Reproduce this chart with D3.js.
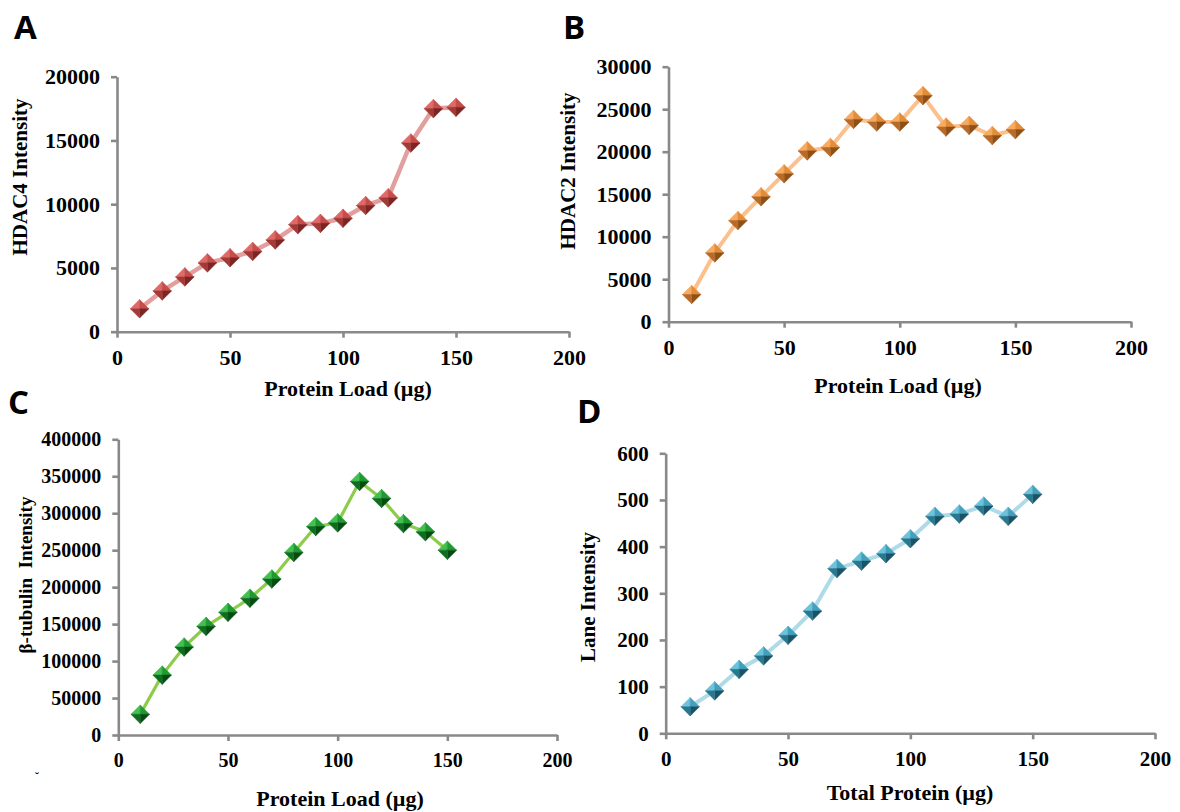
<!DOCTYPE html>
<html>
<head>
<meta charset="utf-8">
<script src="https://cdn.jsdelivr.net/npm/d3@7"></script>
<style>
  body { margin: 0; background: #fff; }
  svg { display: block; }
</style>
</head>
<body>
<script>
// protein loads (µg) used in every panel
const proteinLoad = [10, 20, 30, 40, 50, 60, 70, 80, 90, 100, 110, 120, 130, 140, 150];

// intensities
const hdac4 = [1800, 3200, 4300, 5400, 5800, 6300, 7200, 8400, 8500, 8900, 9900, 10500, 14800, 17500, 17600];
const hdac2 = [3200, 8100, 11900, 14700, 17400, 20100, 20500, 23800, 23500, 23500, 26600, 22900, 23100, 21900, 22600];
const tubulin = [28000, 81000, 119000, 147000, 166000, 185000, 211000, 247000, 282000, 287000, 343000, 320000, 286000, 275000, 250000];
const lane = [57, 91, 137, 166, 210, 262, 353, 369, 385, 417, 465, 470, 487, 465, 512];

// tick labels
const xTicks = [0, 50, 100, 150, 200];
const hdac4Ticks = [0, 5000, 10000, 15000, 20000];
const hdac2Ticks = [0, 5000, 10000, 15000, 20000, 25000, 30000];
const tubulinTicks = [0, 50000, 100000, 150000, 200000, 250000, 300000, 350000, 400000];
const laneTicks = [0, 100, 200, 300, 400, 500, 600];

const svg = d3.select("body").append("svg").attr("width", 1180).attr("height", 812);

const serif = "'Liberation Serif', 'Times New Roman', serif";

function panel(p) {
  const x = d3.scaleLinear().domain([0, 200]).range([p.left, p.right]);
  const y = d3.scaleLinear().domain([0, p.ticks[p.ticks.length - 1]]).range([p.bottom, p.top]);
  const g = svg.append("g");

  const yAxis = g.append("g").attr("transform", "translate(" + p.left + ",0)")
    .call(d3.axisLeft(y).tickValues(p.ticks).tickSize(6).tickSizeOuter(0).tickPadding(11).tickFormat(d3.format("d")));
  const xAxis = g.append("g").attr("transform", "translate(0," + p.bottom + ")")
    .call(d3.axisBottom(x).tickValues(xTicks).tickSize(6).tickSizeOuter(0).tickPadding(12).tickFormat(d3.format("d")));

  [yAxis, xAxis].forEach(function(a) {
    a.select(".domain").attr("stroke", "#898989").attr("stroke-width", 2.6);
    a.selectAll(".tick line").attr("stroke", "#898989").attr("stroke-width", 2.6);
    a.selectAll(".tick text").attr("fill", "#000").style("font-family", serif)
      .style("font-weight", "bold").style("font-size", p.tickFont + "px");
  });

  const line = d3.line()
    .x(function(d, i) { return x(proteinLoad[i]); })
    .y(function(d) { return y(d); });
  g.append("path").attr("d", line(p.values)).attr("fill", "none")
    .attr("stroke", p.lineColor).attr("stroke-width", p.lineWidth).attr("stroke-linejoin", "round");

  // pyramid shaped diamond markers, four shaded facets
  const r = 9.3;
  const facets = [
    [[0, 0], [-r, 0], [0, -r]],
    [[0, 0], [0, -r], [r, 0]],
    [[0, 0], [r, 0], [0, r]],
    [[0, 0], [0, r], [-r, 0]]
  ];
  const m = g.selectAll(".mark").data(p.values).enter().append("g")
    .attr("transform", function(d, i) { return "translate(" + x(proteinLoad[i]) + "," + y(d) + ")"; });
  facets.forEach(function(f, k) {
    m.append("path").attr("d", "M" + f.join("L") + "Z").attr("fill", p.shades[k])
      .attr("stroke", p.shades[k]).attr("stroke-width", 0.5);
  });

  g.append("text").attr("transform", "translate(" + p.yLabel[0] + "," + p.yLabel[1] + ") rotate(-90)")
    .attr("text-anchor", "middle").attr("dy", "0.35em")
    .style("font-family", serif).style("font-weight", "bold").style("font-size", p.yLabelFont + "px")
    .attr("xml:space", "preserve").text(p.yTitle);
  g.append("text").attr("x", p.xLabel[0]).attr("y", p.xLabel[1])
    .attr("text-anchor", "middle").attr("dy", "0.35em")
    .style("font-family", serif).style("font-weight", "bold").style("font-size", "22px")
    .text(p.xTitle);
  g.append("text").attr("x", p.tag[0]).attr("y", p.tag[1])
    .style("font-family", "'Open Sans', 'DejaVu Sans', sans-serif").style("font-weight", "bold")
    .style("font-size", "33px").text(p.name);
}

panel({
  name: "A", tag: [14, 39], values: hdac4, ticks: hdac4Ticks,
  left: 117, right: 569, top: 76.7, bottom: 331.7, tickFont: 22,
  yTitle: "HDAC4 Intensity", yLabel: [20, 177], yLabelFont: 21,
  xTitle: "Protein Load (µg)", xLabel: [348, 388],
  lineColor: "#e39f9e", lineWidth: 4.5,
  shades: ["#df6a67", "#c54e4b", "#7c2523", "#a23a37"]
});

panel({
  name: "B", tag: [563, 39], values: hdac2, ticks: hdac2Ticks,
  left: 668.5, right: 1131, top: 66.7, bottom: 321.7, tickFont: 22,
  yTitle: "HDAC2 Intensity", yLabel: [568, 171], yLabelFont: 21,
  xTitle: "Protein Load (µg)", xLabel: [898, 385],
  lineColor: "#fbc08c", lineWidth: 4,
  shades: ["#f7ab60", "#e28d3a", "#8f5016", "#b66b2a"]
});

panel({
  name: "C", tag: [8, 414], values: tubulin, ticks: tubulinTicks,
  left: 118.3, right: 557, top: 439.3, bottom: 735, tickFont: 20,
  yTitle: "β-tubulin  Intensity", yLabel: [25, 575], yLabelFont: 19,
  xTitle: "Protein Load (µg)", xLabel: [340, 798],
  lineColor: "#8dcc4b", lineWidth: 3.2,
  shades: ["#44c053", "#1f9a31", "#064c12", "#0f6d20"]
});

panel({
  name: "D", tag: [577, 423], values: lane, ticks: laneTicks,
  left: 665.7, right: 1155, top: 453.3, bottom: 733.3, tickFont: 21,
  yTitle: "Lane Intensity", yLabel: [588, 597], yLabelFont: 21,
  xTitle: "Total Protein (µg)", xLabel: [910, 792],
  lineColor: "#afdbe8", lineWidth: 4,
  shades: ["#6cc3dc", "#42a0bd", "#1b5366", "#2a7890"]
});

// small stray mark in the original figure
svg.append("text").attr("x", 37).attr("y", 781).attr("text-anchor", "middle")
  .style("font-family", serif).style("font-size", "12px").text("˘");
</script>
</body>
</html>
